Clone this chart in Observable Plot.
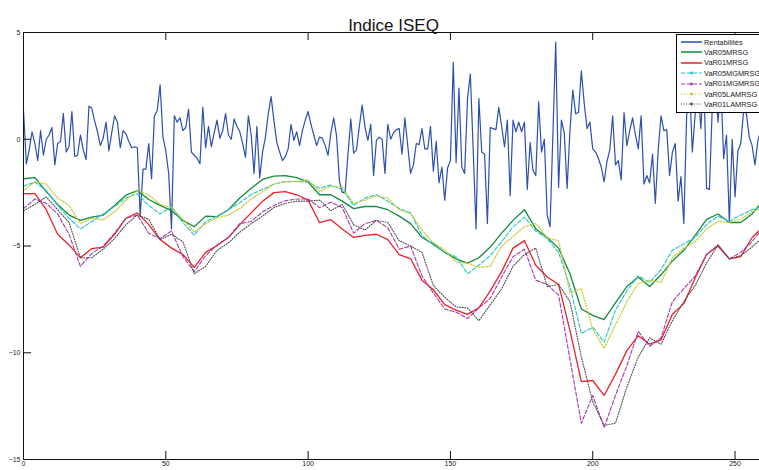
<!DOCTYPE html>
<html><head><meta charset="utf-8">
<script src="https://cdn.jsdelivr.net/npm/d3@7"></script>
<script src="https://cdn.jsdelivr.net/npm/@observablehq/plot@0.6"></script>
<style>
html,body{margin:0;padding:0;overflow:hidden;background:#fff;}
#wrap{position:relative;width:763px;height:470px;font-family:Arial,"Liberation Sans",Helvetica,sans-serif;}
#legend{position:absolute;left:676px;top:34px;width:100px;height:77px;border:1px solid #000;background:#fff;font-size:7.4px;font-family:Arial,"Liberation Sans",Helvetica,sans-serif;}
.row{position:absolute;left:4px;height:10px;display:flex;align-items:center;white-space:nowrap;color:#222;}
.row svg{margin-right:2px;display:block;}
</style></head><body><div id="wrap"></div>
<script>
const title = "Indice ISEQ";
const seriesNames = ["Rentabilités","VaR05MRSG","VaR01MRSG","VaR05MGMRSG","VaR01MGMRSG","VaR05LAMRSG","VaR01LAMRSG"];
const xTicks = [0, 50, 100, 150, 200, 250];
const yTicks = [-15, -10, -5, 0, 5];

// daily returns, day 0..260
const rentabilites = [
 1.35,-1.15,-0.5,0.35,-0.2,-1.0,0.4,-0.75,0.0,0.2,
 0.55,-1.2,-0.2,-0.1,1.2,-0.6,-0.35,1.3,-0.8,-0.75,
 0.2,-0.5,-0.95,1.55,1.45,0.85,0.35,-0.3,0.05,0.8,
 -0.55,0.3,1.1,0.8,-0.4,0.4,0.25,-0.1,-0.4,-0.35,
 -0.4,-3.6,-1.4,-1.4,-0.2,-1.85,1.1,1.35,2.55,0.1,
 -0.55,-1.6,-4.2,1.1,0.8,1.0,0.4,0.55,1.4,-0.6,
 -0.75,-0.9,-1.15,1.5,-0.4,0.6,-0.35,0.3,0.9,0.05,
 0.4,1.2,0.2,0.0,0.95,0.6,0.35,-0.2,-0.85,1.1,
 0.2,-1.6,0.6,-1.8,-0.6,0.1,1.2,2.0,0.85,-0.15,
 -0.6,-1.0,-0.8,-0.45,0.7,-0.05,0.35,-0.3,0.4,0.9,
 1.3,0.7,0.2,-0.3,0.1,0.05,-0.3,-0.75,0.3,1.0,
 0.15,-1.95,-2.5,-2.5,-0.7,0.95,-0.65,-0.5,0.6,1.6,
 0.55,-0.05,0.7,-1.7,-0.05,0.1,0.0,-1.6,0.7,0.0,
 0.3,0.45,0.5,-0.7,1.0,-0.3,-1.6,-1.2,-0.2,-0.25,
 0.5,-0.45,-0.45,0.6,-1.5,-0.1,-2.05,-1.3,-2.85,-1.35,
 -1.0,3.6,-1.1,2.4,-1.3,-1.6,1.9,3.05,-0.5,-4.2,
 1.9,-0.6,-0.7,-3.95,0.55,0.5,0.45,1.5,0.6,-0.35,
 0.9,-2.65,0.9,0.35,0.8,0.35,0.8,-2.35,-0.15,-1.45,
 -1.7,1.75,-0.6,0.0,-3.55,-4.1,0.2,4.55,-2.25,0.9,
 0.3,-2.3,0.4,2.3,1.2,1.25,3.2,1.7,0.5,0.8,
 -0.45,-0.6,-0.9,-1.3,-2.0,-1.05,-0.5,1.1,-1.2,-1.0,
 -1.9,1.25,-0.3,0.4,1.0,0.2,-0.45,1.1,-2.1,-1.7,
 -2.05,-0.7,-3.0,-0.5,1.1,0.4,0.45,-1.7,-0.6,-0.2,
 -2.9,-1.75,-3.95,1.1,2.6,-0.6,1.2,2.4,0.5,3.0,
 -2.3,-2.35,1.5,3.2,0.8,2.6,-0.9,0.2,-3.9,0.0,
 -2.7,-0.55,-0.2,1.3,1.2,0.1,-0.3,-1.2,-0.1,0.4,
 -0.3
];

// VaR series sampled every 4 days
const varDays = [0,4,8,12,16,20,24,28,32,36,40,44,48,52,56,60,64,68,72,76,80,84,88,92,96,100,104,108,112,116,120,124,128,132,136,140,144,148,152,156,160,164,168,172,176,180,184,188,192,196,200,204,208,212,216,220,224,228,232,236,240,244,248,252,256,260];
const var05MRSG = [-1.85,-1.8,-2.45,-3.05,-3.55,-3.8,-3.65,-3.55,-3.1,-2.62,-2.4,-2.82,-3.1,-3.35,-3.8,-4.1,-3.6,-3.62,-3.3,-2.75,-2.3,-1.88,-1.73,-1.7,-1.8,-2.0,-2.6,-2.6,-2.9,-3.25,-3.15,-3.15,-3.3,-3.6,-3.95,-4.6,-4.9,-5.3,-5.6,-5.8,-5.55,-5.05,-4.4,-3.8,-3.3,-4.2,-4.6,-5.1,-6.3,-7.95,-8.25,-8.45,-7.65,-6.9,-6.45,-6.9,-6.35,-5.7,-5.2,-4.5,-3.75,-3.5,-3.9,-3.9,-3.5,-2.85];
const var01MRSG = [-2.55,-2.55,-3.3,-4.45,-4.95,-5.55,-5.12,-5.05,-4.45,-3.7,-3.45,-4.0,-4.7,-5.1,-5.4,-6.0,-5.3,-4.98,-4.6,-4.0,-3.45,-2.9,-2.5,-2.45,-2.6,-2.85,-3.9,-3.77,-4.2,-4.6,-4.5,-4.45,-4.7,-5.4,-5.6,-6.6,-7.05,-7.75,-8.0,-8.2,-7.9,-7.1,-6.2,-5.1,-4.75,-5.9,-6.45,-6.8,-8.95,-11.35,-11.3,-12.0,-11.0,-9.9,-9.2,-9.6,-9.4,-8.2,-7.7,-6.5,-5.4,-5.0,-5.6,-5.5,-4.6,-4.1];
const var05MGMRSG = [-2.2,-2.0,-2.4,-3.1,-3.7,-4.2,-3.85,-3.5,-3.15,-2.75,-2.55,-3.1,-3.5,-3.15,-3.9,-4.5,-3.85,-3.6,-3.3,-2.97,-2.58,-2.35,-2.1,-1.98,-1.98,-2.0,-2.3,-2.15,-2.35,-3.1,-2.75,-2.6,-2.9,-3.25,-3.45,-4.5,-4.95,-5.3,-5.5,-6.3,-5.9,-5.45,-4.8,-4.1,-3.65,-4.3,-4.65,-5.3,-6.9,-9.1,-8.8,-9.5,-8.0,-7.1,-6.4,-6.7,-6.1,-5.2,-4.9,-4.6,-4.0,-3.6,-3.85,-3.55,-3.3,-3.15];
const var01MGMRSG = [-3.25,-2.8,-3.0,-3.5,-4.45,-5.95,-5.35,-5.0,-4.4,-3.7,-3.55,-4.4,-4.65,-4.3,-5.5,-6.2,-5.45,-4.95,-4.6,-3.95,-3.85,-3.4,-3.1,-2.88,-2.8,-2.8,-3.2,-2.95,-3.2,-4.4,-3.95,-3.8,-4.15,-5.15,-5.0,-6.4,-7.2,-7.95,-8.1,-8.4,-7.9,-7.45,-6.45,-5.5,-5.15,-6.6,-6.8,-7.3,-10.3,-13.3,-12.0,-13.5,-12.0,-10.6,-9.0,-9.7,-9.3,-7.6,-7.0,-6.4,-5.4,-4.95,-5.6,-5.3,-4.8,-4.1];
const var05LAMRSG = [-2.4,-2.0,-2.1,-2.75,-3.1,-3.95,-3.7,-3.78,-3.4,-2.85,-2.4,-2.6,-3.05,-3.2,-3.75,-4.35,-3.95,-3.68,-3.55,-3.25,-2.8,-2.45,-2.1,-2.0,-1.98,-1.9,-2.45,-2.2,-2.25,-3.0,-2.85,-2.65,-2.75,-3.3,-3.48,-4.25,-4.85,-5.2,-5.75,-5.8,-6.0,-5.95,-5.0,-4.55,-4.1,-3.95,-4.62,-4.75,-7.2,-7.0,-8.9,-9.8,-8.7,-7.6,-6.75,-6.6,-6.7,-5.55,-5.1,-4.8,-4.2,-3.85,-3.9,-3.75,-3.4,-3.2];
const var01LAMRSG = [-3.35,-3.05,-2.7,-3.3,-3.9,-5.55,-5.55,-5.15,-4.65,-4.0,-3.55,-3.75,-4.7,-4.45,-4.8,-6.3,-5.95,-5.2,-4.85,-4.35,-3.95,-3.6,-3.2,-3.0,-2.9,-2.9,-2.85,-3.35,-3.05,-4.0,-4.25,-3.8,-3.9,-4.75,-5.0,-5.3,-6.85,-7.4,-7.85,-7.9,-8.5,-7.75,-7.0,-5.95,-5.4,-5.1,-6.9,-6.8,-7.6,-10.2,-12.3,-13.4,-13.3,-11.6,-10.2,-9.3,-9.6,-8.5,-7.6,-6.85,-5.8,-4.95,-5.6,-5.45,-5.05,-4.55];

const colors = ["#2d4fae","#148a3e","#ee2028","#20c6c8","#a63aa8","#c9c92a","#4a4a4a"];
const dashes = [null, null, null, "4,2", "4,2", "1.2,1.6", "1,1.6"];
const widths = [1.2, 1.3, 1.3, 1.1, 1.1, 1.2, 1.1];
const varValues = [var05MRSG, var01MRSG, var05MGMRSG, var01MGMRSG, var05LAMRSG, var01LAMRSG];

const varRows = varValues.map(vals => varDays.map((d, i) => ({day: d, v: vals[i]})));

const varMarks = varRows.map((rows, k) => Plot.line(rows, {
  x: "day", y: "v", stroke: colors[k + 1], strokeWidth: widths[k + 1],
  strokeDasharray: dashes[k + 1] || undefined
}));

const chart = Plot.plot({
  width: 763, height: 470,
  marginLeft: 23, marginRight: 0, marginTop: 32, marginBottom: 11,
  style: {fontFamily: "Arial, 'Liberation Sans', Helvetica, sans-serif", fontSize: "7px", background: "white", color: "#222"},
  x: {domain: [0, 260], label: null},
  y: {domain: [-15, 5], label: null},
  marks: [
    Plot.lineY(rentabilites, {x: (d, i) => i, y: d => d, stroke: colors[0], strokeWidth: widths[0]}),
    ...varMarks,
    Plot.frame({stroke: "#111", strokeWidth: 1}),
    Plot.tickX(xTicks, {x: d => d, insetTop: 419, stroke: "#111"}),
    Plot.tickX(xTicks, {x: d => d, insetBottom: 419, stroke: "#111"}),
    Plot.tickY(yTicks, {y: d => d, insetRight: 732, stroke: "#111"}),
    Plot.axisX({anchor: "bottom", ticks: xTicks, tickSize: 0, tickPadding: 2, fontSize: 7, label: null}),
    Plot.axisY({anchor: "left", ticks: yTicks, tickSize: 0, tickPadding: 3, fontSize: 7, label: null}),
    Plot.text([title], {text: d => d, frameAnchor: "top", dy: -14, fontSize: 17, fill: "#111"})
  ]
});

const wrap = document.getElementById("wrap");
wrap.appendChild(chart);

// legend
const legend = document.createElement("div");
legend.id = "legend";
seriesNames.forEach((name, k) => {
  const row = document.createElement("div");
  row.className = "row";
  row.style.top = (2 + 10.4 * k) + "px";
  const ns = "http://www.w3.org/2000/svg";
  const svg = document.createElementNS(ns, "svg");
  svg.setAttribute("width", "21"); svg.setAttribute("height", "8");
  const ln = document.createElementNS(ns, "line");
  ln.setAttribute("x1", "0"); ln.setAttribute("x2", "21");
  ln.setAttribute("y1", "4"); ln.setAttribute("y2", "4");
  ln.setAttribute("stroke", colors[k]);
  ln.setAttribute("stroke-width", k < 3 ? 2 : 1.2);
  if (k < 3) ln.setAttribute("stroke-opacity", "0.75");
  if (dashes[k]) ln.setAttribute("stroke-dasharray", dashes[k]);
  svg.appendChild(ln);
  if (k >= 3) {
    const c = document.createElementNS(ns, "circle");
    c.setAttribute("cx", "10.5"); c.setAttribute("cy", "4"); c.setAttribute("r", "1.4");
    c.setAttribute("fill", colors[k]);
    svg.appendChild(c);
  }
  row.appendChild(svg);
  const t = document.createElement("span");
  t.textContent = name;
  row.appendChild(t);
  legend.appendChild(row);
});
wrap.appendChild(legend);
</script></body></html>
